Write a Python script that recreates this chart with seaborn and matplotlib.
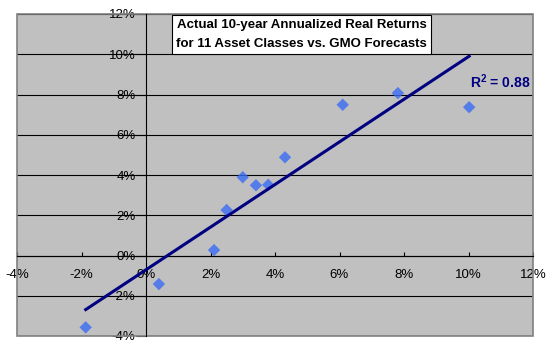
import matplotlib
matplotlib.use("Agg")
import matplotlib.pyplot as plt
from matplotlib.ticker import PercentFormatter
from matplotlib.patches import Rectangle
import seaborn as sns
import numpy as np

# GMO forecast (x, %) vs actual 10-year annualized real return (y, %)
forecast = [-1.87, 0.40, 2.11, 2.50, 3.00, 3.41, 3.79, 4.31, 6.10, 7.81, 10.02]
actual = [-3.57, -1.42, 0.27, 2.26, 3.89, 3.49, 3.51, 4.88, 7.49, 8.07, 7.37]
ticks = [-4, -2, 0, 2, 4, 6, 8, 10, 12]
title_text = "Actual 10-year Annualized Real Returns\nfor 11 Asset Classes vs. GMO Forecasts"
r2_text = r"R$^2$ = 0.88"

plt.rcParams["font.family"] = ["Liberation Sans", "DejaVu Sans"]
plt.rcParams["axes.unicode_minus"] = False
plt.rcParams["mathtext.default"] = "regular"

fig = plt.figure(figsize=(5.5, 3.5), dpi=100)
fig.patch.set_facecolor("white")
ax = fig.add_axes([17 / 550, 1 - 336 / 350, 516 / 550, 322 / 350])
ax.set_facecolor("#C0C0C0")

sns.regplot(
    x=np.array(forecast), y=np.array(actual), ax=ax, ci=None, marker="D",
    scatter_kws={"s": 40, "color": "#3A6CF5", "edgecolors": "none", "zorder": 3},
    line_kws={"color": "#000080", "linewidth": 2.2, "zorder": 4},
)

ax.set_xlim(-4, 12)
ax.set_ylim(-4, 12)
ax.set_xticks(ticks)
ax.set_yticks(ticks)
ax.xaxis.set_major_formatter(PercentFormatter(decimals=0))
ax.yaxis.set_major_formatter(PercentFormatter(decimals=0))
ax.set_xlabel("")
ax.set_ylabel("")

# gridlines
ax.set_axisbelow(True)
ax.grid(axis="y", color="black", linewidth=0.8)
ax.grid(axis="x", visible=False)

# axes crossing at zero
ax.spines["left"].set_position(("data", 0))
ax.spines["bottom"].set_position(("data", 0))
for s in ["left", "bottom"]:
    ax.spines[s].set_color("black")
    ax.spines[s].set_linewidth(0.8)
    ax.spines[s].set_zorder(2)
for s in ["top", "right"]:
    ax.spines[s].set_visible(False)

ax.add_patch(Rectangle((0, 0), 1, 1, transform=ax.transAxes, fill=False,
                       edgecolor="#808080", linewidth=1.2, zorder=1, clip_on=False))

ax.tick_params(axis="y", direction="out", length=7, width=0.8, pad=0.5,
               labelsize=9.5, colors="black")
ax.tick_params(axis="x", direction="in", length=3, width=0.8, pad=10,
               labelsize=9.5, colors="black")

ax.text(0.552, 0.936, title_text, transform=ax.transAxes, ha="center", va="center",
        fontsize=9.5, fontweight="bold", linespacing=1.7, zorder=6,
        bbox=dict(boxstyle="square,pad=0.32", facecolor="white", edgecolor="black",
                  linewidth=0.8))

ax.text(0.878, 0.789, r2_text, transform=ax.transAxes, ha="left", va="center",
        fontsize=10, fontweight="bold", color="#000080", zorder=6)

fig.savefig("out.png", dpi=100)
